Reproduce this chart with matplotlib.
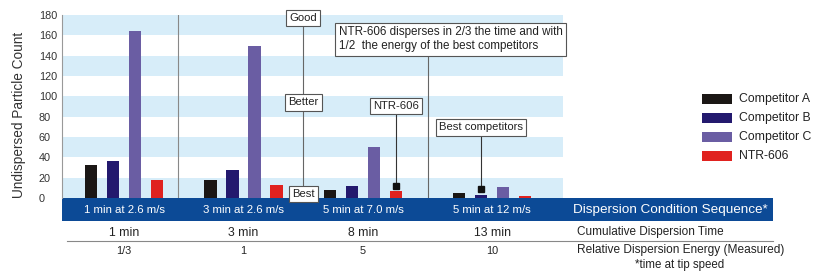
import numpy as np
import matplotlib.pyplot as plt
from matplotlib.patches import Rectangle
from matplotlib.transforms import blended_transform_factory

plt.rcParams['font.family'] = ['Liberation Sans', 'DejaVu Sans']

# data
conditions = ['1 min at 2.6 m/s', '3 min at 2.6 m/s', '5 min at 7.0 m/s', '5 min at 12 m/s']
cum_time = ['1 min', '3 min', '8 min', '13 min']
energy = ['1/3', '1', '5', '10']
series = ['Competitor A', 'Competitor B', 'Competitor C', 'NTR-606']
comp_a = [32, 18, 8, 5]
comp_b = [36, 28, 12, 3]
comp_c = [164, 150, 50, 11]
ntr606 = [18, 13, 6.5, 2]
ntr_marker = 12      # black square above NTR-606 at 5 min / 7.0 m/s
best_marker = 9      # black square above best competitor at 5 min / 12 m/s
yticks = list(range(0, 181, 20))

colors = ['#1b1715', '#23196e', '#6a5da3', '#e0221f']
band_col = '#0c4a96'
stripe_col = '#d7edf9'

W, H = 813, 271
fig = plt.figure(figsize=(W / 100, H / 100), dpi=100)

# overlay in pixel coordinates for the band, the table below and the legend
ov = fig.add_axes([0, 0, 1, 1])
ov.set_xlim(0, W)
ov.set_ylim(H, 0)
ov.axis('off')

ax = fig.add_axes([62 / W, (H - 198) / H, (563 - 62) / W, (198 - 15) / H])
ax.set_facecolor('none')
px = 119.5  # pixels per group
ax.set_xlim((62 - 124) / px, (563 - 124) / px)
ax.set_ylim(0, 180)

for lo in range(0, 180, 40):
    ax.axhspan(lo, lo + 20, color=stripe_col, lw=0, zorder=0)

gx = np.array([0, 1, 2, 3.08])
offs = [-0.276, -0.092, 0.092, 0.276]
for vals, off, c in zip([comp_a, comp_b, comp_c, ntr606], offs, colors):
    ax.bar(gx + off, vals, width=0.103, color=c, zorder=2)

ax.set_xticks([])
ax.set_yticks(yticks)
ax.tick_params(axis='y', length=0, pad=16.6, labelsize=7.8, labelcolor='#333')
for t in ax.get_yticklabels():
    t.set_horizontalalignment('left')
for s in ['top', 'right', 'bottom']:
    ax.spines[s].set_visible(False)
ax.spines['left'].set_color('#999')
ax.spines['left'].set_linewidth(0.8)

# separator between the first two groups
ax.plot([0.45, 0.45], [0, 180], color='#888', lw=0.8, zorder=1)

box = dict(boxstyle='square,pad=0.3', fc='white', ec='#555', lw=0.8)

# Good / Better / Best scale
ax.plot([1.5, 1.5], [4, 177], color='#666', lw=0.8, zorder=3)
for lab, yv in [('Good', 177), ('Better', 94), ('Best', 4)]:
    ax.text(1.5, yv, lab, ha='center', va='center', fontsize=8.1, color='#222',
            bbox=box, zorder=5, clip_on=False)

# NTR-606 callout
xn = gx[2] + offs[3]
ax.plot([xn, xn], [90, ntr_marker], color='#333', lw=0.8, zorder=3)
ax.plot(xn, ntr_marker, 's', ms=4.4, color='#111', zorder=4)
ax.text(xn, 90.5, 'NTR-606', ha='center', va='center', fontsize=8.1, color='#222',
        bbox=box, zorder=5)

# best competitors callout
xb = gx[3] + offs[1]
ax.plot([xb, xb], [69, best_marker], color='#333', lw=0.8, zorder=3)
ax.plot(xb, best_marker, 's', ms=4.4, color='#111', zorder=4)
ax.text(xb, 69.5, 'Best competitors', ha='center', va='center', fontsize=8.1,
        color='#222', bbox=box, zorder=5)

# big statement box
ax.plot([2.544, 2.544], [0, 140], color='#666', lw=0.8, zorder=1)
ax.text(1.795, 156, 'NTR-606 disperses in 2/3 the time and with\n1/2  the energy of the best competitors',
        ha='left', va='center', fontsize=8.4, color='#222', linespacing=1.2,
        bbox=dict(boxstyle='square,pad=0.3', fc='white', ec='#555', lw=0.8), zorder=5)

fig.text(19 / W, 1 - 115 / H, 'Undispersed Particle Count', rotation=90,
         ha='center', va='center', fontsize=9.8, color='#333')

# dark band with condition labels
ov.add_patch(Rectangle((62, 198), 773 - 62, 23, color=band_col, lw=0))
tr = blended_transform_factory(ax.transData, ov.transData)
for g, lab in zip(gx, conditions):
    ov.text(g, 210, lab, transform=tr, ha='center', va='center', fontsize=8.2, color='white')
ov.text(573, 210, 'Dispersion Condition Sequence*', ha='left', va='center',
        fontsize=9.7, color='white')

# table below
ov.plot([67, 773], [240.7, 240.7], color='#888', lw=0.8)
for g, t, e in zip(gx, cum_time, energy):
    ov.text(g, 233, t, transform=tr, ha='center', va='center', fontsize=8.8, color='#222')
    ov.text(g, 250.5, e, transform=tr, ha='center', va='center', fontsize=7.8, color='#222')
ov.text(577, 232.5, 'Cumulative Dispersion Time', ha='left', va='center', fontsize=8.5, color='#222')
ov.text(577, 250, 'Relative Dispersion Energy (Measured)', ha='left', va='center', fontsize=8.6, color='#222')
ov.text(679.5, 265, '*time at tip speed', ha='center', va='center', fontsize=8.3, color='#222')

# legend
for i, (lab, c) in enumerate(zip(series, colors)):
    yc = 98.7 + i * 19.1
    ov.add_patch(Rectangle((702, yc - 5), 30, 10, color=c, lw=0))
    ov.text(739, yc, lab, ha='left', va='center', fontsize=8.8, color='#222')

fig.savefig('out.png', dpi=100)
